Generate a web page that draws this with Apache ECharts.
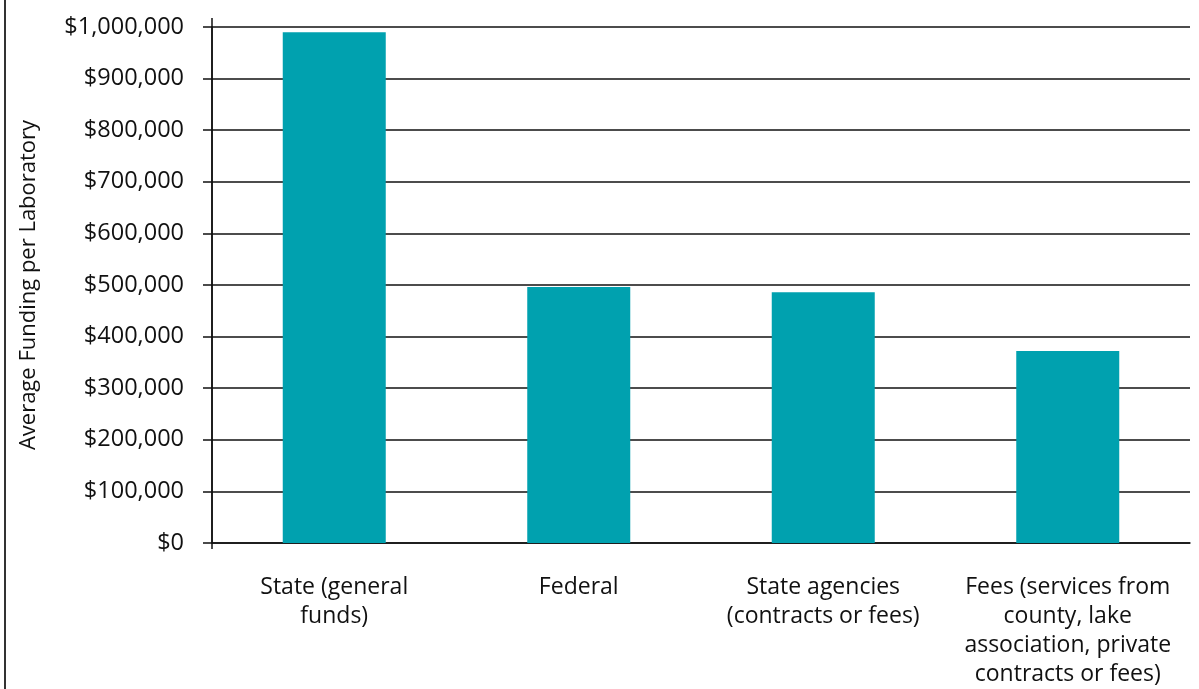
<!DOCTYPE html>
<html>
<head>
<meta charset="utf-8">
<script src="https://cdn.jsdelivr.net/npm/echarts@6/dist/echarts.min.js"></script>
<style>
html,body{margin:0;padding:0;background:#fff;}
#chart{width:1199px;height:689px;}
</style>
</head>
<body>
<div id="chart"></div>
<script>
var categories = [
  "State (general\nfunds)",
  "Federal",
  "State agencies\n(contracts or fees)",
  "Fees (services from\ncounty, lake\nassociation, private\ncontracts or fees)"
];
var fundingValues = [990000, 496000, 486000, 372000];
var yAxisTitle = "Average Funding per Laboratory";

var chart = echarts.init(document.getElementById('chart'));
var FONT = '"Open Sans", "Noto Sans", sans-serif';
chart.setOption({
  animation: false,
  backgroundColor: '#fff',
  grid: { left: 212, right: 9, top: 27, bottom: 144, containLabel: false },
  xAxis: {
    type: 'category',
    data: categories,
    axisLine: { show: true, lineStyle: { color: '#111', width: 1.5 } },
    axisTick: { show: false },
    axisLabel: {
      color: '#111', fontFamily: FONT, fontSize: 23, lineHeight: 29,
      margin: 30, interval: 0
    }
  },
  yAxis: {
    type: 'value',
    min: 0, max: 1000000, interval: 100000,
    name: yAxisTitle,
    nameLocation: 'middle',
    nameGap: 172,
    nameRotate: 90,
    nameTextStyle: { color: '#111', fontFamily: FONT, fontSize: 22 },
    axisLine: { show: true, lineStyle: { color: '#111', width: 1.5 } },
    axisTick: { show: true, length: 9, lineStyle: { color: '#111', width: 1.5 } },
    axisLabel: {
      color: '#111', fontFamily: FONT, fontSize: 23.5, margin: 28,
      formatter: function (v) { return '$' + v.toLocaleString('en-US'); }
    },
    splitLine: { show: true, lineStyle: { color: '#111', width: 1.5 } }
  },
  series: [{
    type: 'bar',
    data: fundingValues,
    barWidth: 103,
    itemStyle: { color: '#00A1AF' }
  }],
  graphic: [
    { type: 'line', shape: { x1: 5, y1: 0, x2: 5, y2: 689 }, style: { stroke: '#333', lineWidth: 2 } },
    { type: 'line', shape: { x1: 212, y1: 18, x2: 212, y2: 549 }, style: { stroke: '#111', lineWidth: 1.5 } }
  ]
});
</script>
</body>
</html>
